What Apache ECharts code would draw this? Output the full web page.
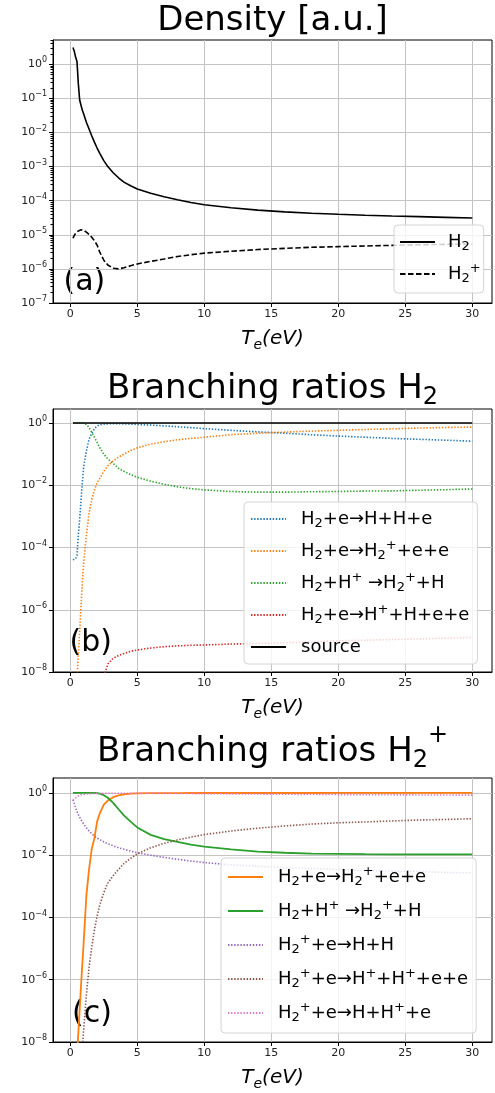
<!DOCTYPE html>
<html>
<head>
<meta charset="utf-8">
<script src="https://cdn.jsdelivr.net/npm/echarts@6/dist/echarts.min.js"></script>
<style>
  html, body { margin: 0; padding: 0; background: #fff; }
  #chart { width: 495px; height: 1093px; }
</style>
</head>
<body>
<div id="chart"></div>
<script>
// electron temperature grid (eV)
var te = [0.2, 0.3, 0.4, 0.5, 0.6, 0.7, 0.8, 0.9, 1.0, 1.2, 1.4, 1.6, 1.8, 2.0, 2.2, 2.5, 2.8, 3.2, 3.6, 4.0,
          4.5, 5, 6, 7, 8, 9, 10, 12, 14, 16, 18, 20, 22, 24, 26, 28, 30];

// (a) densities
var densH2 = [3.1, 2.4, 1.6, 1.2, 0.27, 0.09, 0.063, 0.045, 0.035, 0.02, 0.0126, 0.008, 0.0052, 0.0035, 0.00245, 0.0015, 0.001, 6.6e-4, 4.7e-4, 3.5e-4,
              2.75e-4, 2.2e-4, 1.65e-4, 1.3e-4, 1.07e-4, 8.9e-5, 7.6e-5, 6.2e-5, 5.3e-5, 4.7e-5, 4.3e-5, 4.0e-5, 3.75e-5, 3.55e-5, 3.4e-5, 3.25e-5, 3.1e-5];
var densH2p = [7.9e-6, 9.6e-6, 1.1e-5, 1.22e-5, 1.3e-5, 1.37e-5, 1.4e-5, 1.39e-5, 1.35e-5, 1.2e-5, 1.03e-5, 8.5e-6, 6.7e-6, 5.0e-6, 3.1e-6, 1.8e-6, 1.3e-6, 1.05e-6, 1.0e-6, 1.08e-6,
               1.23e-6, 1.4e-6, 1.66e-6, 1.95e-6, 2.3e-6, 2.6e-6, 2.9e-6, 3.3e-6, 3.7e-6, 4.0e-6, 4.3e-6, 4.5e-6, 4.7e-6, 4.9e-6, 5.1e-6, 5.25e-6, 5.4e-6];

// (b) branching ratios H2
var brDiss = [4e-5, 4.2e-5, 4.4e-5, 5.6e-5, 2.5e-4, 8e-4, 3.2e-3, 0.0126, 0.04, 0.126, 0.3, 0.46, 0.66, 0.8, 0.87, 0.92, 0.94, 0.95, 0.95, 0.94,
              0.92, 0.9, 0.86, 0.81, 0.76, 0.71, 0.66, 0.58, 0.52, 0.47, 0.42, 0.38, 0.35, 0.32, 0.3, 0.28, 0.26];
var brIon = [null, null, 1e-10, 6.3e-9, 4e-8, 2e-7, 1.26e-6, 7.9e-6, 3.2e-5, 2.5e-4, 1.26e-3, 3.5e-3, 7e-3, 0.012, 0.0166, 0.028, 0.042, 0.06, 0.08, 0.1,
             0.13, 0.16, 0.21, 0.25, 0.29, 0.32, 0.35, 0.42, 0.47, 0.51, 0.55, 0.58, 0.62, 0.65, 0.69, 0.72, 0.74];
var brCx = [1, 1, 1, 1, 1, 1, 1, 1, 1, 0.9, 0.72, 0.5, 0.35, 0.24, 0.16, 0.1, 0.07, 0.05, 0.035, 0.028,
            0.022, 0.018, 0.0135, 0.0107, 0.0089, 0.0078, 0.0071, 0.0063, 0.006, 0.006, 0.0062, 0.0063, 0.0065, 0.0066, 0.0069, 0.0072, 0.0076];
var brDissIon = [null, null, null, null, null, null, null, null, null, null, null, null, null, 2.5e-10, 1.26e-9, 7e-9, 1.8e-8, 2.75e-8, 3.4e-8, 3.9e-8,
                 4.6e-8, 5.1e-8, 5.9e-8, 6.5e-8, 6.9e-8, 7.2e-8, 7.4e-8, 7.9e-8, 8.3e-8, 8.7e-8, 9.3e-8, 1.0e-7, 1.05e-7, 1.1e-7, 1.15e-7, 1.23e-7, 1.3e-7];
var brSource = [1, 1, 1, 1, 1, 1, 1, 1, 1, 1, 1, 1, 1, 1, 1, 1, 1, 1, 1, 1,
                1, 1, 1, 1, 1, 1, 1, 1, 1, 1, 1, 1, 1, 1, 1, 1, 1];

// (c) branching ratios H2+
var pIon = [null, null, 2e-10, 3e-9, 2e-8, 1.1e-7, 6.3e-7, 3.2e-6, 1.6e-5, 5e-4, 3.5e-3, 0.016, 0.035, 0.12, 0.22, 0.42, 0.57, 0.73, 0.84, 0.9,
            0.95, 0.97, 0.985, 0.99, 0.993, 0.995, 0.996, 0.996, 0.997, 0.997, 0.997, 0.998, 0.998, 0.998, 0.998, 0.998, 0.998];
var pCx = [1, 1, 1, 1, 1, 1, 1, 1, 1, 1, 1, 1, 1, 0.98, 0.95, 0.85, 0.7, 0.48, 0.3, 0.19,
           0.12, 0.078, 0.045, 0.033, 0.027, 0.022, 0.019, 0.0155, 0.013, 0.012, 0.0112, 0.011, 0.0108, 0.0107, 0.0107, 0.0107, 0.0107];
var pDissRec = [0.6, 0.45, 0.33, 0.25, 0.2, 0.166, 0.138, 0.117, 0.1, 0.076, 0.06, 0.049, 0.041, 0.0355, 0.0316, 0.0269, 0.0234, 0.02, 0.0174, 0.0155,
                0.0135, 0.012, 0.01, 0.0085, 0.0074, 0.0065, 0.0058, 0.0049, 0.0044, 0.004, 0.0037, 0.0035, 0.0032, 0.0031, 0.003, 0.0028, 0.0027];
var pDissIon = [null, null, null, null, null, null, null, 6.3e-9, 2.5e-8, 3.2e-7, 2.5e-6, 1.1e-5, 4e-5, 1.1e-4, 2.5e-4, 6.3e-4, 1.26e-3, 2.2e-3, 3.5e-3, 5.4e-3,
                7.9e-3, 0.011, 0.0174, 0.024, 0.031, 0.038, 0.046, 0.06, 0.074, 0.087, 0.1, 0.11, 0.117, 0.126, 0.135, 0.141, 0.148];
var pDissExc = [0.58, 0.64, 0.7, 0.76, 0.8, 0.84, 0.87, 0.89, 0.9, 0.92, 0.94, 0.95, 0.96, 0.96, 0.97, 0.97, 0.975, 0.978, 0.98, 0.98,
                0.98, 0.977, 0.973, 0.967, 0.962, 0.955, 0.948, 0.935, 0.922, 0.909, 0.896, 0.886, 0.88, 0.871, 0.862, 0.856, 0.85];

// tick labels
var xTicks = [0, 5, 10, 15, 20, 25, 30];
var yTicksA = [-7, -6, -5, -4, -3, -2, -1, 0];   // decades
var yTicksBC = [-8, -6, -4, -2, 0];

// legend labels (rich text)
var labels = {
    'a:H2': 'H{sub|2}',
    'a:H2p': 'H{sub|2}{sup|+}',
    'b:diss': 'H{sub|2}+e→H+H+e',
    'b:ion': 'H{sub|2}+e→H{sub|2}{sup|+}+e+e',
    'b:cx': 'H{sub|2}+H{sup|+} →H{sub|2}{sup|+}+H',
    'b:dion': 'H{sub|2}+e→H{sup|+}+H+e+e',
    'b:src': 'source',
    'c:ion': 'H{sub|2}+e→H{sub|2}{sup|+}+e+e',
    'c:cx': 'H{sub|2}+H{sup|+} →H{sub|2}{sup|+}+H',
    'c:drec': 'H{sub|2}{sup|+}+e→H+H',
    'c:dion': 'H{sub|2}{sup|+}+e→H{sup|+}+H{sup|+}+e+e',
    'c:dexc': 'H{sub|2}{sup|+}+e→H+H{sup|+}+e'
};

var FONT = 'DejaVu Sans';
var DOT = [1.4, 1.7];
var DASH = [5.5, 2.5];

function toLog(arr) {
    return te.map(function (x, i) {
        return [x, arr[i] == null ? '-' : Math.log10(arr[i])];
    });
}

function line(name, gi, yi, arr, color, type, width) {
    return {
        name: name, type: 'line', xAxisIndex: gi, yAxisIndex: yi,
        data: toLog(arr), symbol: 'none', showSymbol: false, clip: true,
        animation: false, silent: true,
        lineStyle: {color: color, width: width, type: type},
        itemStyle: {color: color}
    };
}

function expLabel(v) {
    return '10{sup|' + (v < 0 ? '−' + Math.abs(v) : v) + '}';
}

function xAxisFor(gi) {
    return {
        type: 'value', gridIndex: gi, min: -1.29, max: 31.47, splitNumber: 6,
        axisLine: {show: true, onZero: false, lineStyle: {color: '#000', width: 1}},
        axisTick: {show: true, length: 4, customValues: xTicks, lineStyle: {color: '#000'}},
        axisLabel: {customValues: xTicks, fontFamily: FONT, fontSize: 11, color: '#222', margin: 6},
        splitLine: {show: true, lineStyle: {color: '#c4c4c4', width: 1}},
        name: '{it|T}{isub|e}{it|(eV)}', nameLocation: 'middle', nameGap: 22,
        nameTextStyle: {
            fontFamily: FONT, fontSize: 20, color: '#000',
            rich: {
                it: {fontFamily: FONT, fontSize: 20, fontStyle: 'italic', color: '#000'},
                isub: {fontFamily: FONT, fontSize: 14, fontStyle: 'italic', color: '#000', padding: [13, 0, 0, 0]}
            }
        }
    };
}

function yAxisFor(gi, min, max, ticks) {
    return {
        type: 'value', gridIndex: gi, min: min, max: max, interval: ticks[1] - ticks[0],
        axisLine: {show: true, onZero: false, lineStyle: {color: '#000', width: 1}},
        axisTick: {show: true, length: 4, customValues: ticks, lineStyle: {color: '#000'}},
        axisLabel: {
            customValues: ticks, formatter: expLabel, fontFamily: FONT, fontSize: 11, color: '#222', margin: 6,
            rich: {sup: {fontFamily: FONT, fontSize: 8, color: '#222', padding: [0, 0, 8, 0]}}
        },
        splitLine: {show: true, lineStyle: {color: '#c4c4c4', width: 1}}
    };
}

// minor log ticks for panel (a)
var minorA = [];
for (var n = -7; n <= 0; n++) {
    for (var k = 2; k <= 9; k++) {
        var v = n + Math.log10(k);
        if (v < 0.712) minorA.push(v);
    }
}

function legendFor(names, left, top, pad, gap, textPad) {
    return {
        data: names, orient: 'vertical', left: left, top: top, padding: pad, itemGap: gap,
        itemWidth: 35, itemHeight: 14, selectedMode: false,
        itemStyle: {opacity: 0, borderWidth: 0},
        backgroundColor: 'rgba(255,255,255,0.8)', borderColor: '#d4d4d4', borderWidth: 1, borderRadius: 4,
        formatter: function (name) { return labels[name]; },
        textStyle: {
            fontFamily: FONT, fontSize: 18, color: '#000', lineHeight: 24, padding: [0, 0, 0, textPad],
            rich: {
                sub: {fontFamily: FONT, fontSize: 13, color: '#000', padding: [10, 0, 0, 0]},
                sup: {fontFamily: FONT, fontSize: 13, color: '#000', padding: [0, 0, 11, 0]}
            }
        }
    };
}

var titleRich = {
    tsub: {fontFamily: FONT, fontSize: 24, fill: '#000', padding: [18, 0, 0, 0]},
    tsup: {fontFamily: FONT, fontSize: 24, fill: '#000', padding: [0, 0, 32, 0]}
};

function textEl(text, x, y, size, align) {
    return {
        type: 'text', x: x, y: y, silent: true,
        style: {text: text, fontFamily: FONT, fontSize: size, fill: '#000', align: align, verticalAlign: 'middle', rich: titleRich}
    };
}

var chart = echarts.init(document.getElementById('chart'), null, {renderer: 'canvas'});

var option = {
    backgroundColor: '#fff',
    animation: false,
    grid: [
        {left: 53, top: 40, width: 439, height: 263, show: true, borderColor: '#000', borderWidth: 1, backgroundColor: 'transparent'},
        {left: 53, top: 409, width: 439, height: 263, show: true, borderColor: '#000', borderWidth: 1, backgroundColor: 'transparent'},
        {left: 53, top: 778, width: 439, height: 264, show: true, borderColor: '#000', borderWidth: 1, backgroundColor: 'transparent'}
    ],
    xAxis: [xAxisFor(0), xAxisFor(1), xAxisFor(2)],
    yAxis: [
        yAxisFor(0, -7, 0.712, yTicksA),
        {
            type: 'value', gridIndex: 0, min: -7, max: 0.712, position: 'left',
            axisLine: {show: false, onZero: false}, axisLabel: {show: false}, splitLine: {show: false},
            axisTick: {show: true, length: 2.5, customValues: minorA, lineStyle: {color: '#000'}}
        },
        yAxisFor(1, -8, 0.45, yTicksBC),
        yAxisFor(2, -8, 0.48, yTicksBC)
    ],
    legend: [
        legendFor(['a:H2', 'a:H2p'], 394, 225, [5, 3, 7, 5], 8, 8),
        legendFor(['b:diss', 'b:ion', 'b:cx', 'b:dion', 'b:src'], 244, 502, [5, 8, 5, 6], 8, 10),
        legendFor(['c:ion', 'c:cx', 'c:drec', 'c:dion', 'c:dexc'], 221, 858, [7, 8, 8, 6], 10, 10)
    ],
    graphic: [
        textEl('Density [a.u.]', 272.5, 21.5, 34, 'center'),
        textEl('Branching ratios H{tsub|2}', 272.5, 389, 34, 'center'),
        textEl('Branching ratios H{tsub|2}{tsup|+}', 272.5, 752, 34, 'center'),
        textEl('(a)', 63.5, 282.6, 30, 'left'),
        textEl('(b)', 69.5, 643, 30, 'left'),
        textEl('(c)', 72, 1014.6, 30, 'left')
    ],
    series: [
        line('a:H2', 0, 0, densH2, '#000', 'solid', 1.6),
        line('a:H2p', 0, 0, densH2p, '#000', DASH, 1.6),

        line('b:diss', 1, 2, brDiss, '#1f77b4', DOT, 1.6),
        line('b:ion', 1, 2, brIon, '#ff7f0e', DOT, 1.6),
        line('b:cx', 1, 2, brCx, '#2ca02c', DOT, 1.6),
        line('b:dion', 1, 2, brDissIon, '#d62728', DOT, 1.6),
        line('b:src', 1, 2, brSource, '#000', 'solid', 1.6),

        line('c:ion', 2, 3, pIon, '#ff7f0e', 'solid', 1.8),
        line('c:cx', 2, 3, pCx, '#2ca02c', 'solid', 1.8),
        line('c:drec', 2, 3, pDissRec, '#9467bd', DOT, 1.6),
        line('c:dion', 2, 3, pDissIon, '#8c564b', DOT, 1.6),
        line('c:dexc', 2, 3, pDissExc, '#e377c2', DOT, 1.6)
    ]
};

chart.setOption(option);
</script>
</body>
</html>
